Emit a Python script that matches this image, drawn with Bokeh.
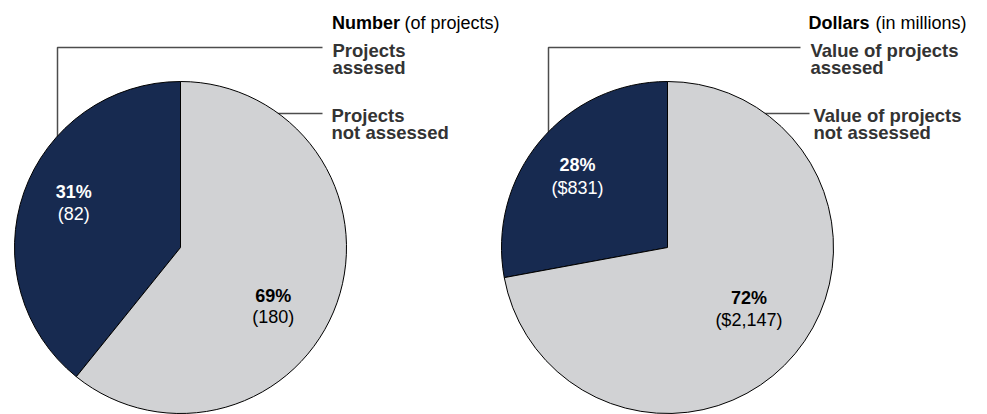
import math
from bokeh.plotting import figure
from bokeh.models import Range1d, ColumnDataSource
from bokeh.core.properties import value
from bokeh.embed import file_html
from bokeh.resources import INLINE

# ---------------- data ----------------
panel_title_bold = ["Number", "Dollars"]
panel_title_rest = ["(of projects)", "(in millions)"]
number_labels = ["Projects\nassesed", "Projects\nnot assessed"]
dollar_labels = ["Value of projects\nassesed", "Value of projects\nnot assessed"]
number_values = [82, 180]
number_percent = [31, 69]
dollar_values = [831, 2147]
dollar_percent = [28, 72]
# the reference draws the "number" pie with the assessed slice at about this share
number_drawn_share = [39.2, 60.8]

# ---------------- style ----------------
DARK = "#172a50"
LIGHT = "#d1d2d4"
FONT = value("Liberation Sans")
W, H = 987, 414
PAGE_H = 414
TEXT_DY = 5.5  # baseline correction for text placement


def Y(s):
    # reference pixel y (from top) -> data y
    return PAGE_H - s


def TY(s):
    return PAGE_H - (s - TEXT_DY)


p = figure(width=W, height=H, x_range=Range1d(0, W), y_range=Range1d(PAGE_H - H, PAGE_H),
           output_backend="svg", toolbar_location=None, x_axis_type=None, y_axis_type=None,
           min_border=0, outline_line_color=None)
p.grid.visible = False
p.background_fill_color = "white"
p.border_fill_color = "white"

R = 166
CY = 247
panels = [
    dict(cx=180, values=number_values, share=number_drawn_share, pct=number_percent,
         labels=number_labels, fmt=lambda v: f"({v:,})",
         pct_pos=[(73.3, 196.7, 219.0), (272.7, 301.0, 322.0)],
         lead1_x=57, lead1_end=322, lab1_x=332, lead2_start=250, lead2_end=322, lab2_x=331,
         title_x=331.5, rest_x=404),
    dict(cx=667, values=dollar_values, share=dollar_values, pct=dollar_percent,
         labels=dollar_labels, fmt=lambda v: f"(${v:,})",
         pct_pos=[(577.0, 170.0, 192.5), (748.4, 303.0, 325.0)],
         lead1_x=548, lead1_end=800, lab1_x=810, lead2_start=740, lead2_end=809, lab2_x=813,
         title_x=808, rest_x=875),
]

for i, pn in enumerate(panels):
    cx = pn["cx"]
    # leader lines (drawn first, pie covers their inner ends)
    p.line([pn["lead1_x"], pn["lead1_x"], pn["lead1_end"]],
           [Y(200), Y(47), Y(47)], line_color="#4d4d4d", line_width=1.5)
    p.line([pn["lead2_start"], pn["lead2_end"]], [Y(113), Y(113)], line_color="#4d4d4d", line_width=1.5)

    # pie
    tot = float(sum(pn["share"]))
    angles = [s / tot * 2 * math.pi for s in pn["share"]]
    starts, ends = [], []
    a = math.pi / 2
    for ang in angles:
        starts.append(a)
        ends.append(a + ang)
        a += ang
    src = ColumnDataSource(dict(x=[cx, cx], y=[Y(CY), Y(CY)], start=starts, end=ends, color=[DARK, LIGHT]))
    p.wedge(x="x", y="y", radius=R, start_angle="start", end_angle="end", fill_color="color",
            line_color="black", line_width=1, source=src)

    # percent labels
    for j in range(2):
        x, b1, b2 = pn["pct_pos"][j]
        col = "white" if j == 0 else "black"
        p.text(x=[x], y=[TY(b1)], text=[f"{pn['pct'][j]}%"], text_font=FONT, text_font_size="18px",
               text_font_style="bold", text_color=col, text_align="center", text_baseline="alphabetic")
        p.text(x=[x], y=[TY(b2)], text=[pn["fmt"](pn["values"][j])], text_font=FONT, text_font_size="18px",
               text_font_style="normal", text_color=col, text_align="center", text_baseline="alphabetic")

    # title
    p.text(x=[pn["title_x"]], y=[TY(27.5)], text=[panel_title_bold[i]], text_font=FONT, text_font_size="18px",
           text_font_style="bold", text_color="black", text_align="left", text_baseline="alphabetic")
    p.text(x=[pn["rest_x"]], y=[TY(27.5)], text=[panel_title_rest[i]], text_font=FONT, text_font_size="18px",
           text_font_style="normal", text_color="black", text_align="left", text_baseline="alphabetic")

    # slice labels
    for j, (lx, b0) in enumerate([(pn["lab1_x"], 55.0), (pn["lab2_x"], 120.0)]):
        lines = pn["labels"][j].split("\n")
        for k, ln in enumerate(lines):
            p.text(x=[lx], y=[TY(b0 + 17.3 * k)], text=[ln], text_font=FONT, text_font_size="18.5px",
                   text_font_style="bold", text_color="#333333", text_align="left", text_baseline="alphabetic")

open("out.html", "w").write(file_html(p, INLINE))
